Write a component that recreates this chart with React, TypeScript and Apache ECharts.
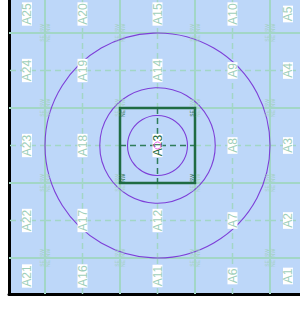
import React, { useEffect, useRef } from "react";
import * as echarts from "echarts";

// cell names, top row first, left column first
const cellNames: string[][] = [
  ["A25", "A20", "A15", "A10", "A5"],
  ["A24", "A19", "A14", "A9", "A4"],
  ["A23", "A18", "A13", "A8", "A3"],
  ["A22", "A17", "A12", "A7", "A2"],
  ["A21", "A16", "A11", "A6", "A1"],
];
// corner tags: top-left, top-right, bottom-left, bottom-right
const cornerNames = ["NE", "SE", "NW", "SW"];
const focusCell = "A13";
const ringRadii = [0.4, 0.77, 1.5];
const xRange = [0.52, 4.48];
const yRange = [0.52, 4.5067];

const BG = "#bdd7f9";
const LINE = "#a2d6c6";
const LABEL = "#9fcfba";
const DARK = "#1f6b42";
const DARK_DASH = "#2f7d5a";
const PURPLE = "#7d3fd8";
const PINK = "#e640e6";
const FONT = "Liberation Sans, Arial, sans-serif";

// the chart canvas is slightly larger than the window and offset upward
const OFFSET_TOP = 5;
const VIEW_W = 300;

type Cell = { c: number; r: number; name: string };
const cells: Cell[] = [];
cellNames.forEach((row, i) =>
  row.forEach((name, c) => cells.push({ c, r: cellNames.length - 1 - i, name }))
);
const orderedCells = [
  ...cells.filter((d) => d.name !== focusCell),
  ...cells.filter((d) => d.name === focusCell),
];
const focus = cells.find((d) => d.name === focusCell)!;

export default function App() {
  const ref = useRef<HTMLDivElement>(null);
  useEffect(() => {
    document.body.style.margin = "0";
    document.body.style.overflow = "hidden";
    const chart = echarts.init(ref.current!, undefined, { renderer: "svg" });

    const cellData = orderedCells.map((d) => [d.c, d.r]);

    const option: any = {
      animation: false,
      grid: {
        left: 9,
        right: 0,
        top: 0,
        bottom: 17,
        show: true,
        backgroundColor: BG,
        borderWidth: 0,
      },
      xAxis: {
        type: "value",
        min: xRange[0],
        max: xRange[1],
        axisLine: { show: true, onZero: false, lineStyle: { color: "#000", width: 3 } },
        axisTick: { show: false },
        axisLabel: { show: false },
        splitLine: { show: false },
      },
      yAxis: {
        type: "value",
        min: yRange[0],
        max: yRange[1],
        axisLine: { show: true, onZero: false, lineStyle: { color: "#000", width: 3 } },
        axisTick: { show: false },
        axisLabel: { show: false },
        splitLine: { show: false },
      },
      series: [
        {
          type: "custom",
          z: 1,
          clip: true,
          data: cellData,
          encode: { x: 0, y: 1 },
          renderItem: (params: any, api: any) => {
            const d = orderedCells[params.dataIndex];
            const isFocus = d.name === focusCell;
            const tl = api.coord([d.c, d.r + 1]);
            const br = api.coord([d.c + 1, d.r]);
            const cx = (tl[0] + br[0]) / 2;
            const cy = (tl[1] + br[1]) / 2;
            const dashColor = isFocus ? DARK_DASH : LINE;
            return {
              type: "group",
              children: [
                {
                  type: "rect",
                  shape: { x: tl[0], y: tl[1], width: br[0] - tl[0], height: br[1] - tl[1] },
                  style: { fill: "none", stroke: isFocus ? DARK : LINE, lineWidth: isFocus ? 2.5 : 2 },
                  z2: isFocus ? 10 : 1,
                },
                {
                  type: "line",
                  shape: { x1: cx, y1: tl[1], x2: cx, y2: br[1] },
                  style: { stroke: dashColor, lineWidth: 1.5, lineDash: [6, 4] },
                  z2: isFocus ? 9 : 0,
                },
                {
                  type: "line",
                  shape: { x1: tl[0], y1: cy, x2: br[0], y2: cy },
                  style: { stroke: dashColor, lineWidth: 1.5, lineDash: [6, 4] },
                  z2: isFocus ? 9 : 0,
                },
              ],
            };
          },
        },
        {
          type: "custom",
          z: 2,
          clip: true,
          data: ringRadii.map((r) => [focus.c + 0.5, focus.r + 0.5, r]),
          encode: { x: 0, y: 1 },
          renderItem: (params: any, api: any) => {
            const p = api.coord([api.value(0), api.value(1)]);
            const s = api.size([api.value(2), api.value(2)]);
            return {
              type: "circle",
              shape: { cx: p[0], cy: p[1], r: s[0] },
              style: { fill: "none", stroke: PURPLE, lineWidth: 1.1 },
            };
          },
        },
        {
          type: "custom",
          z: 4,
          clip: true,
          data: cellData,
          encode: { x: 0, y: 1 },
          renderItem: (params: any, api: any) => {
            const d = orderedCells[params.dataIndex];
            const isFocus = d.name === focusCell;
            const x0 = Math.max(d.c, xRange[0]);
            const x1 = Math.min(d.c + 1, xRange[1]);
            const y0 = Math.max(d.r, yRange[0]);
            const y1 = Math.min(d.r + 1, yRange[1]);
            const lp = api.coord([(x0 + x1) / 2, (y0 + y1) / 2]);
            const tl = api.coord([d.c, d.r + 1]);
            const br = api.coord([d.c + 1, d.r]);
            const pTL = api.coord([xRange[0], yRange[1]]);
            const pBR = api.coord([xRange[1], yRange[0]]);
            const minX = Math.max(pTL[0], 0) + 2;
            const maxX = Math.min(pBR[0], VIEW_W) - 2;
            const minY = Math.max(pTL[1], OFFSET_TOP) + 2;
            const maxY = pBR[1] - 2;
            const col = isFocus ? DARK : LABEL;
            const corners = [
              [tl[0] + 3, tl[1] + 5.5],
              [br[0] - 3, tl[1] + 5.5],
              [tl[0] + 3, br[1] - 5],
              [br[0] - 3, br[1] - 5],
            ];
            const cornerEls: any[] = [];
            corners.forEach((p, k) => {
              if (p[0] - 3 < minX || p[0] + 3 > maxX || p[1] - 5 < minY || p[1] + 5 > maxY) return;
              cornerEls.push({
                type: "text",
                x: p[0],
                y: p[1],
                rotation: Math.PI / 2,
                style: {
                  text: cornerNames[k],
                  fill: col,
                  fontSize: 5,
                  fontFamily: FONT,
                  align: "center",
                  verticalAlign: "middle",
                },
              });
            });
            return {
              type: "group",
              children: [
                ...cornerEls,
                {
                  type: "text",
                  x: lp[0],
                  y: lp[1],
                  rotation: Math.PI / 2,
                  style: {
                    text: d.name,
                    fill: isFocus ? DARK : LABEL,
                    fontSize: 12,
                    lineHeight: 10,
                    fontFamily: FONT,
                    align: "center",
                    verticalAlign: "middle",
                    backgroundColor: "#ffffff",
                    padding: [0, 1, 0, 1],
                  },
                },
              ],
            };
          },
        },
        {
          type: "scatter",
          z: 5,
          data: [[focus.c + 0.5, focus.r + 0.5]],
          symbol: "circle",
          symbolSize: 7,
          itemStyle: { color: "rgba(0,0,0,0)", borderColor: PINK, borderWidth: 1 },
        },
      ],
    };
    chart.setOption(option);
    return () => chart.dispose();
  }, []);
  return (
    <div
      ref={ref}
      style={{ position: "absolute", left: 0, top: -OFFSET_TOP, width: 306, height: 316 }}
    />
  );
}
